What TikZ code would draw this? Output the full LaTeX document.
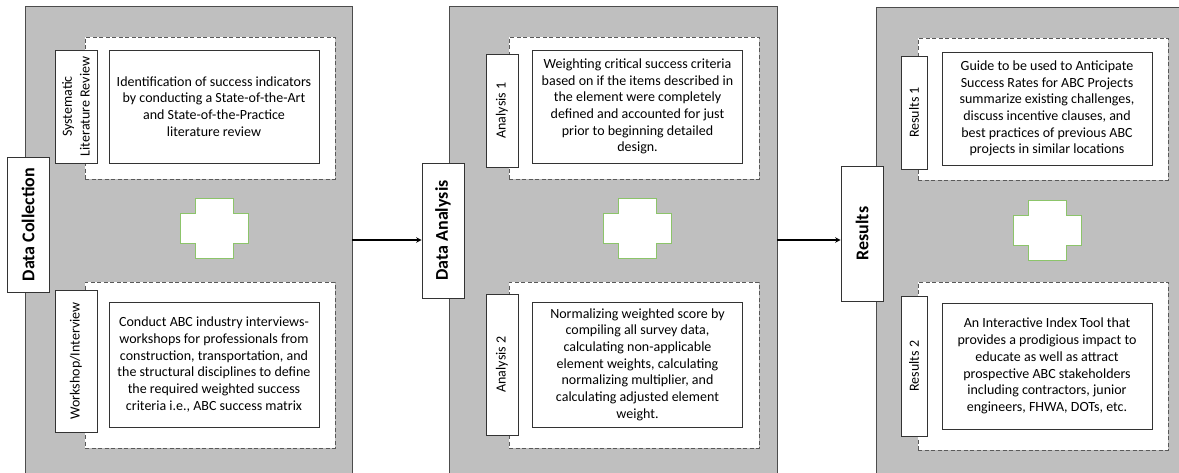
\documentclass[tikz,border=0pt]{standalone}
\usepackage{fontspec}
\setmainfont{Carlito}
\usepackage{tikz}
\usetikzlibrary{calc}
\definecolor{panelgray}{HTML}{BFBFBF}
\definecolor{crossgreen}{HTML}{8CC46A}
\tikzstyle{flow}=[
  x=1pt, y=-1pt, >=stealth, font=\fontsize{14}{16.7}\selectfont
]
\tikzstyle{panel}=[
  draw=black!70, fill=panelgray, line width=0.9pt, minimum height=468pt, inner sep=0pt
]
\tikzstyle{stage}=[
  draw=black!80, fill=white, rotate=90, line width=0.8pt, minimum width=135pt, minimum height=42pt,
  inner sep=0pt, font=\fontsize{18}{21}\selectfont\bfseries
]
\tikzstyle{group}=[
  draw=black!65, fill=white, dash pattern=on 4pt off 2.5pt, line width=0.8pt, minimum width=250pt, inner sep=0pt
]
\tikzstyle{tag}=[
  draw=black!80, fill=white, rotate=90, line width=0.8pt, inner sep=0pt, align=center
]
\tikzstyle{desc}=[
  draw=black!80, fill=white, line width=0.8pt, minimum width=210pt, align=center, inner sep=0pt
]
\tikzstyle{plus}=[
  draw=crossgreen, fill=white, line width=1pt
]
\tikzstyle{link}=[
  ->, line width=1.4pt
]
\begin{document}
\begin{tikzpicture}[flow]
  \useasboundingbox (0,0) rectangle (1179,472);
  \clip (0,0) rectangle (1179,472);

  % panels
  \node (p1) at (188.5, 240) [panel, minimum width=327pt] {};
  \node (p2) at (613, 240) [panel, minimum width=328pt] {};
  \node (p3) at (1035.5, 241) [panel, minimum width=319pt] {};

  % dashed groups
  \node (g11) at (210, 108) [group, minimum height=142pt] {};
  \node (g12) at (210, 365) [group, minimum height=166pt] {};
  \node (g21) at (634, 108) [group, minimum height=142pt] {};
  \node (g22) at (634, 365) [group, minimum height=166pt] {};
  \node (g31) at (1043, 109) [group, minimum height=142pt] {};
  \node (g32) at (1043, 366) [group, minimum height=168pt] {};

  % side tags
  \node (t11) at (76, 106.5) [tag, minimum width=113pt, minimum height=42pt] {Systematic\\[1pt]Literature Review};
  \node (t12) at (76, 361) [tag, minimum width=142pt, minimum height=42pt] {Workshop/Interview};
  \node (t21) at (502, 110.5) [tag, minimum width=113pt, minimum height=32pt] {Analysis 1};
  \node (t22) at (502, 364.5) [tag, minimum width=141pt, minimum height=32pt] {Analysis 2};
  \node (t31) at (914, 112.5) [tag, minimum width=113pt, minimum height=26pt] {Results 1};
  \node (t32) at (914, 366) [tag, minimum width=140pt, minimum height=26pt] {Results 2};

  % descriptions
  \node (d11) at (214, 106.5) [desc, minimum height=113pt] {Identification of success indicators\\by conducting a State-of-the-Art\\and State-of-the-Practice\\literature review};
  \node (d12) at (214, 364.5) [desc, minimum height=125pt] {Conduct ABC industry interviews-\\workshops for professionals from\\construction, transportation, and\\the structural disciplines to define\\the required weighted success\\criteria i.e., ABC success matrix};
  \node (d21) at (637.5, 106.5) [desc, minimum height=113pt] {Weighting critical success criteria\\based on if the items described in\\the element were completely\\defined and accounted for just\\prior to beginning detailed\\design.};
  \node (d22) at (637.5, 364.5) [desc, minimum height=125pt] {Normalizing weighted score by\\compiling all survey data,\\calculating non-applicable\\element weights, calculating\\normalizing multiplier, and\\calculating adjusted element\\weight.};
  \node (d31) at (1047, 108.5) [desc, minimum height=113pt] {Guide to be used to Anticipate\\Success Rates for ABC Projects\\summarize existing challenges,\\discuss incentive clauses, and\\best practices of previous ABC\\projects in similar locations};
  \node (d32) at (1047, 366) [desc, minimum height=126pt] {An Interactive Index Tool that\\provides a prodigious impact to\\educate as well as attract\\prospective ABC stakeholders\\including contractors, junior\\engineers, FHWA, DOTs, etc.};

  % plus signs
  \foreach \cx/\cy in {214/228, 637.5/228, 1047/230}{
    \draw [plus] (\cx-19,\cy-30) -- (\cx+19,\cy-30) -- (\cx+19,\cy-15) -- (\cx+34,\cy-15)
      -- (\cx+34,\cy+15) -- (\cx+19,\cy+15) -- (\cx+19,\cy+30) -- (\cx-19,\cy+30)
      -- (\cx-19,\cy+15) -- (\cx-34,\cy+15) -- (\cx-34,\cy-15) -- (\cx-19,\cy-15) -- cycle;
  }

  % stage labels
  \node (dc) at (28, 224.5) [stage] {Data Collection};
  \node (da) at (443, 230.5) [stage] {Data Analysis};
  \node (rs) at (862, 233.5) [stage] {Results};

  \draw [link] (p1.east) -- (p1.east -| da.north);
  \draw [link] (p2.east) -- (p2.east -| rs.north);
\end{tikzpicture}
\end{document}
